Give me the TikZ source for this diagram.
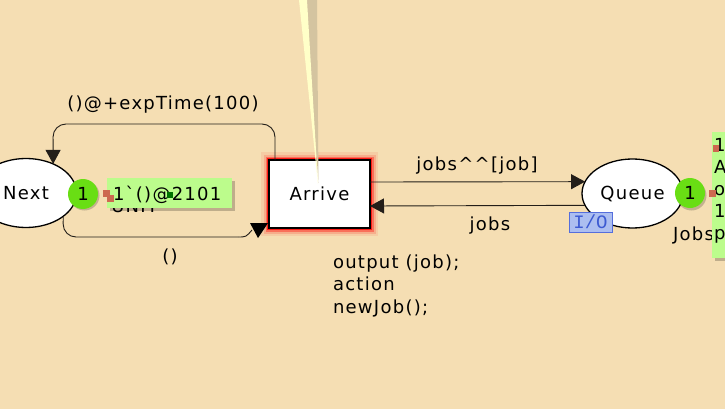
\documentclass[tikz,border=0pt]{standalone}
\usepackage{fontspec}
\setmainfont{DejaVu Sans}[LetterSpace=7, Ligatures=TeXOff]
\newfontfamily\iofont{Liberation Mono}
\usetikzlibrary{arrows.meta,shapes.geometric}
\definecolor{bgcol}{RGB}{245,222,179}
\definecolor{tokgreen}{RGB}{105,222,20}
\definecolor{boxgreen}{RGB}{188,252,140}
\definecolor{markred}{RGB}{205,105,80}
\definecolor{markgreen}{RGB}{0,115,0}
\definecolor{iofill}{RGB}{172,190,240}
\definecolor{ioline}{RGB}{85,110,220}
\definecolor{iotext}{RGB}{60,90,210}
\definecolor{arccol}{RGB}{35,30,25}
\definecolor{tipyellow}{RGB}{255,255,200}
\definecolor{tipshadow}{RGB}{212,196,160}
\pgfdeclarelayer{back}
\pgfdeclarelayer{glow}
\pgfsetlayers{back,glow,main}
\begin{document}
\begin{tikzpicture}[x=1pt,y=-1pt,
  lbl/.style={inner sep=0pt, outer sep=0pt, font=\fontsize{18}{22}\selectfont},
  place/.style={ellipse, draw=black, line width=1.3pt, fill=white, minimum width=101pt, minimum height=69pt, inner sep=0pt, outer sep=0pt, lbl},
  trans/.style={rectangle, draw=black, line width=1.3pt, fill=white, minimum width=101pt, minimum height=68pt, inner sep=0pt, outer sep=0pt, lbl},
  arc/.style={draw=arccol, line width=0.9pt, -{Triangle[length=14pt,width=15pt]}},
  tok/.style={circle, fill=tokgreen, minimum size=30pt, inner sep=0pt, lbl},
  boxshadow/.style={fill=black, opacity=0.22},
]
\begin{pgfonlayer}{back}
\fill[bgcol] (0,0) rectangle (725,409);
\end{pgfonlayer}
\useasboundingbox (0,0) rectangle (725,409);

% hidden type label of Next
\node[lbl, anchor=base east] (nexttype) at (158,212) {UNIT};

% nodes
\node[trans] (arrive) at (319.5,194) {Arrive};
\node[place] (next) at (26,193) {Next};
\node[place] (queue) at (632.5,193.5) {Queue};

% glow of the enabled transition
\begin{pgfonlayer}{glow}
\draw[red, opacity=0.08, line width=16pt] (arrive.south west) rectangle (arrive.north east);
\draw[red, opacity=0.15, line width=11pt] (arrive.south west) rectangle (arrive.north east);
\draw[red, opacity=0.35, line width=7pt] (arrive.south west) rectangle (arrive.north east);
\draw[red, opacity=0.75, line width=4pt] (arrive.south west) rectangle (arrive.north east);
\end{pgfonlayer}

% arcs
\coordinate (t1) at (275,124);
\coordinate (t2) at (53,124);
\draw[arc, rounded corners=13pt] ([xshift=6pt]arrive.north west) -- (t1) -- (t2) -- (next.47);
\node[lbl, anchor=base] (lbltop) at (163,110) {()@+expTime(100)};

\coordinate (b1) at (63,237);
\coordinate (b2) at (238,237);
\coordinate (b3) at (252,230);
\draw[draw=arccol, line width=0.9pt, rounded corners=13pt] (next.-32.3) -- (b1) -- (b2);
\draw[draw=arccol, line width=0.9pt] (b2) .. controls (246,237) .. (b3);
\fill[black] (250,223) -- (268,223) -- (258,238) -- cycle;
\node[lbl, anchor=base] (lblbot) at (170,262) {()};

\draw[arc] ([yshift=12pt]arrive.east) -- (queue.166.4);
\node[lbl, anchor=base] (lblout) at (477,170) {jobs\^{}\^{}[job]};
\draw[arc] (queue.194.9) -- ([yshift=-12pt]arrive.east);
\node[lbl, anchor=base] (lblin) at (490,230) {jobs};

% code segment
\node[lbl, anchor=base west] (code1) at (333,268) {output (job);};
\node[lbl, anchor=base west] (code2) at (333,290.5) {action};
\node[lbl, anchor=base west] (code3) at (333,313) {newJob();};

% I/O tag
\node[draw=ioline, fill=iofill, line width=1pt, minimum width=43pt, minimum height=20pt, inner sep=0pt,
      text=iotext, font=\iofont\fontsize{19}{20}\selectfont] (io) at (590.5,222) {I/O};

% Queue type label (partly hidden)
\node[lbl, anchor=base west] (queuetype) at (673,240) {Jobs};

% marking of Next
\fill[boxshadow] (110,181) rectangle (235,211);
\node[fill=boxgreen, anchor=north west, minimum width=125pt, minimum height=30pt, inner sep=0pt] (nextbox) at (107,178) {};
\node[lbl, anchor=base west] (nextmark) at (113,200) {1`()@2101};
\fill[markred] (103,190) rectangle (110,197);
\fill[markred] (107,195) rectangle (114,202);
\fill[markgreen] (167,192) rectangle (173,198);
\fill[black, opacity=0.2] (84.5,195.5) circle (15pt);
\node[tok] (nexttok) at (83,194) {1};

% marking of Queue
\fill[boxshadow] (715,135) rectangle (730,261);
\node[fill=boxgreen, anchor=north west, minimum width=20pt, minimum height=126pt, inner sep=0pt] (queuebox) at (712,132) {};
\node[lbl, anchor=base west] (qm1) at (714,151) {1};
\node[lbl, anchor=base west] (qm2) at (714,173) {A};
\node[lbl, anchor=base west] (qm3) at (714,195) {o};
\node[lbl, anchor=base west] (qm4) at (714,217) {1};
\node[lbl, anchor=base west] (qm5) at (714,239) {p};
\fill[markred] (713,145) rectangle (719,152);
\fill[markred] (709,190) rectangle (716,197);
\fill[black, opacity=0.2] (691.5,195.5) circle (15pt);
\node[tok] (queuetok) at (690,193) {1};

% tooltip pointer
\fill[tipshadow] (305,0) -- (317,0) -- (318.5,183) -- cycle;
\fill[tipyellow] (299,0) -- (307,0) -- (318,184) -- cycle;
\end{tikzpicture}
\end{document}
